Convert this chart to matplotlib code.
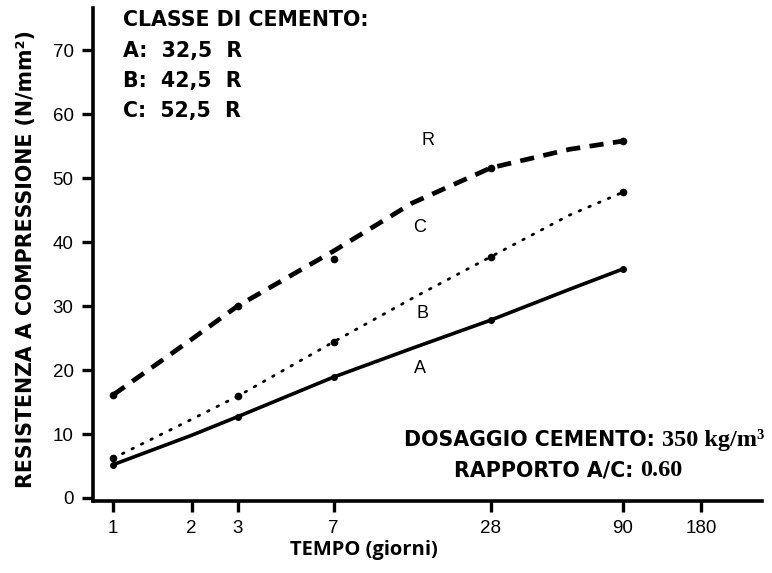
import matplotlib
matplotlib.use("Agg")
import matplotlib.pyplot as plt

# giorni di maturazione
days = [1, 2, 3, 7, 14, 28, 56, 90]
res_a = [5.2, 9.8, 12.7, 18.9, 23.4, 27.8, 32.6, 35.8]
res_b = [6.2, 12.3, 15.9, 24.4, 31.2, 37.7, 44.2, 47.8]
res_c = [16.1, 24.8, 30.0, 38.6, 46.1, 51.6, 54.5, 55.8]

# punti sperimentali segnati sul grafico
pts_days = [1, 3, 7, 28, 90]
pts_a = [5.2, 12.7, 18.9, 27.8, 35.8]
pts_b = [6.2, 15.9, 24.4, 37.7, 47.8]
pts_c = [16.1, 30.0, 37.3, 51.6, 55.8]

x_ticks = [1, 2, 3, 7, 28, 90, 180]
y_ticks = [0, 10, 20, 30, 40, 50, 60, 70]

W, H = 772, 573
fig = plt.figure(figsize=(W / 100, H / 100), dpi=100)
ax = fig.add_axes([93 / W, 1 - 501 / H, (762 - 93) / W, (501 - 8) / H])

ax.plot(days, res_a, color="black", lw=2.6, solid_capstyle="round")
ax.plot(days, res_b, color="black", lw=2.0, linestyle=(0, (0.6, 3.2)),
        dash_capstyle="round")
ax.plot(days, res_c, color="black", lw=3.4, linestyle=(0, (3.0, 2.0)))

ax.plot(pts_days, pts_a, "o", color="black", ms=4)
ax.plot(pts_days, pts_b, "o", color="black", ms=4.5)
ax.plot(pts_days, pts_c, "o", color="black", ms=4.5)

ax.set_xscale("log")
ax.set_xlim(0.838, 307)
ax.set_ylim(-0.47, 76.6)
ax.set_xticks(x_ticks)
ax.set_xticklabels([str(d) for d in x_ticks])
ax.set_yticks(y_ticks)
ax.minorticks_off()

for s in ["top", "right"]:
    ax.spines[s].set_visible(False)
for s in ["left", "bottom"]:
    ax.spines[s].set_linewidth(2.6)
ax.tick_params(direction="out", length=8, width=2.4, labelsize=13.5, pad=6)
for lab in ax.get_xticklabels() + ax.get_yticklabels():
    lab.set_family("Liberation Sans")

# etichette delle curve
lbl = dict(fontsize=13, family="Liberation Sans", ha="center", va="center")
ax.text(16.1, 55.9, "R", **lbl)
ax.text(15.0, 42.3, "C", **lbl)
ax.text(15.3, 28.8, "B", **lbl)
ax.text(15.0, 20.3, "A", **lbl)

bold = dict(family="DejaVu Sans", fontweight="bold", fontsize=14.8)
fig.text(26 / W, 1 - 259 / H, "RESISTENZA A COMPRESSIONE (N/mm²)",
         rotation=90, ha="center", va="center", **bold)
fig.text(364 / W, 1 - 550 / H, "TEMPO (giorni)", ha="center", va="center",
         family="Open Sans", fontweight="bold", fontsize=14.5)

lines = ["CLASSE DI CEMENTO:", "A:  32,5  R", "B:  42,5  R", "C:  52,5  R"]
for i, t in enumerate(lines):
    fig.text(123 / W, 1 - (20 + 30.5 * i) / H, t, ha="left", va="center", **bold)

# note in basso a destra: testo sans + numeri serif
serif = dict(family="Liberation Serif", fontweight="bold", fontsize=17.5)
renderer = fig.canvas.get_renderer()
for cx, cy, a, b in [(584, 446, "DOSAGGIO CEMENTO: ", "350 kg/m³"),
                     (568, 476, "RAPPORTO A/C: ", "0.60")]:
    t1 = fig.text(0, 1 - cy / H, a, ha="left", va="baseline", **bold)
    t2 = fig.text(0, 1 - cy / H, b, ha="left", va="baseline", **serif)
    w1 = t1.get_window_extent(renderer).width
    w2 = t2.get_window_extent(renderer).width
    x0 = cx - (w1 + w2) / 2
    t1.set_x(x0 / W)
    t2.set_x((x0 + w1) / W)

fig.savefig("out.png", dpi=100)
